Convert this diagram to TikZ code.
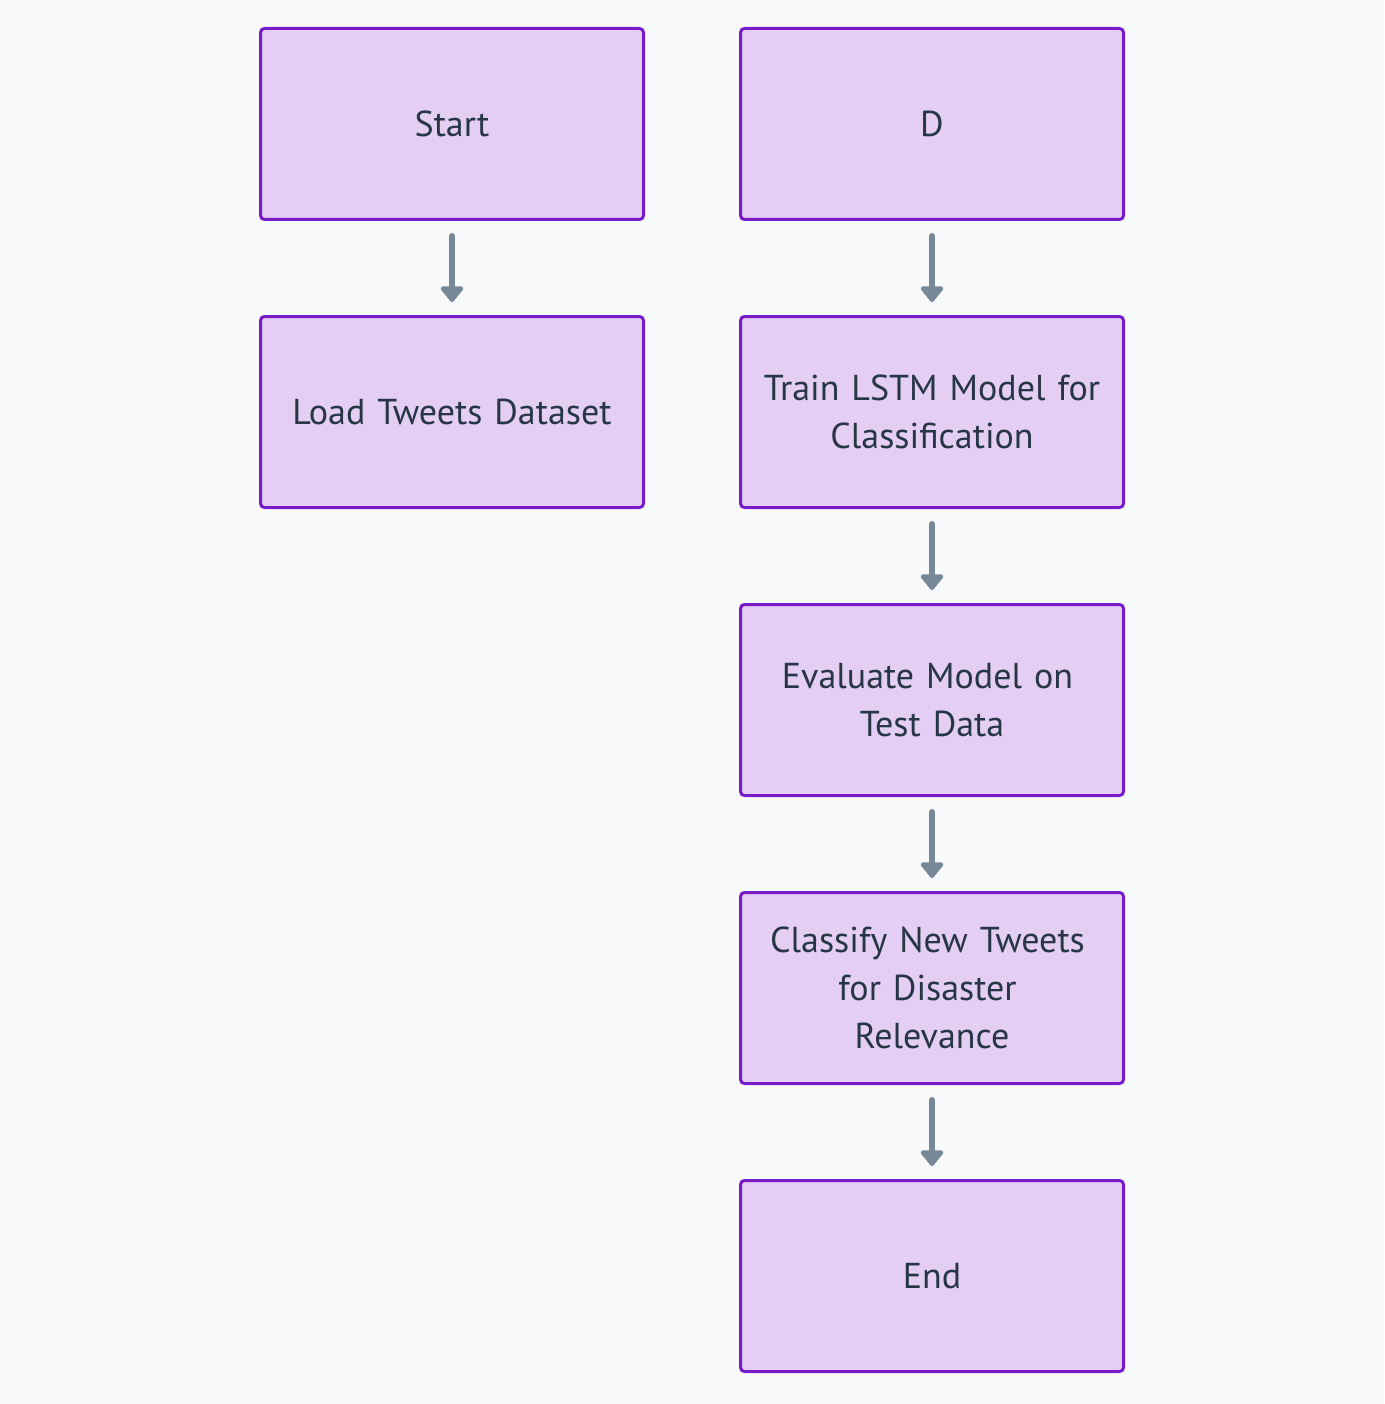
\documentclass[tikz,border=0pt]{standalone}
\usepackage{fontspec}
\setmainfont{PT Sans}
\usetikzlibrary{arrows.meta}
\definecolor{bg}{HTML}{F8F9FB}
\definecolor{boxfill}{HTML}{E4CEF4}
\definecolor{boxdraw}{HTML}{7A1BC8}
\definecolor{arr}{HTML}{778899}
\definecolor{txt}{HTML}{263646}
\tikzset{
  stepbox/.style={draw=boxdraw, fill=boxfill, line width=3pt, rounded corners=4pt,
    minimum width=383pt, minimum height=191pt, inner sep=0pt, text=txt,
    font=\fontsize{36}{48}\selectfont, align=center, text width=375pt},
  flow/.style={draw=arr, line width=6pt, line cap=round,
    -{Triangle[length=17pt,width=26pt,round]}, shorten >=13pt, shorten <=15pt}
}
\begin{document}
\begin{tikzpicture}[x=1pt,y=-1pt]
\useasboundingbox[fill=bg] (0,0) rectangle (1384,1404);
\node[stepbox] (start) at (452,124) {Start};
\node[stepbox] (load) at (452,412) {Load Tweets Dataset};
\node[stepbox] (d) at (932,124) {D};
\node[stepbox] (train) at (932,412) {Train LSTM Model for\\Classification};
\node[stepbox] (eval) at (932,700) {Evaluate Model on\kern9pt\\Test Data};
\node[stepbox] (class) at (932,988) {Classify New Tweets\kern9pt\\for Disaster\kern9pt\\Relevance};
\node[stepbox] (end) at (932,1276) {End};
\draw[flow] (start) -- (load);
\draw[flow] (d) -- (train);
\draw[flow] (train) -- (eval);
\draw[flow] (eval) -- (class);
\draw[flow] (class) -- (end);
\end{tikzpicture}
\end{document}
